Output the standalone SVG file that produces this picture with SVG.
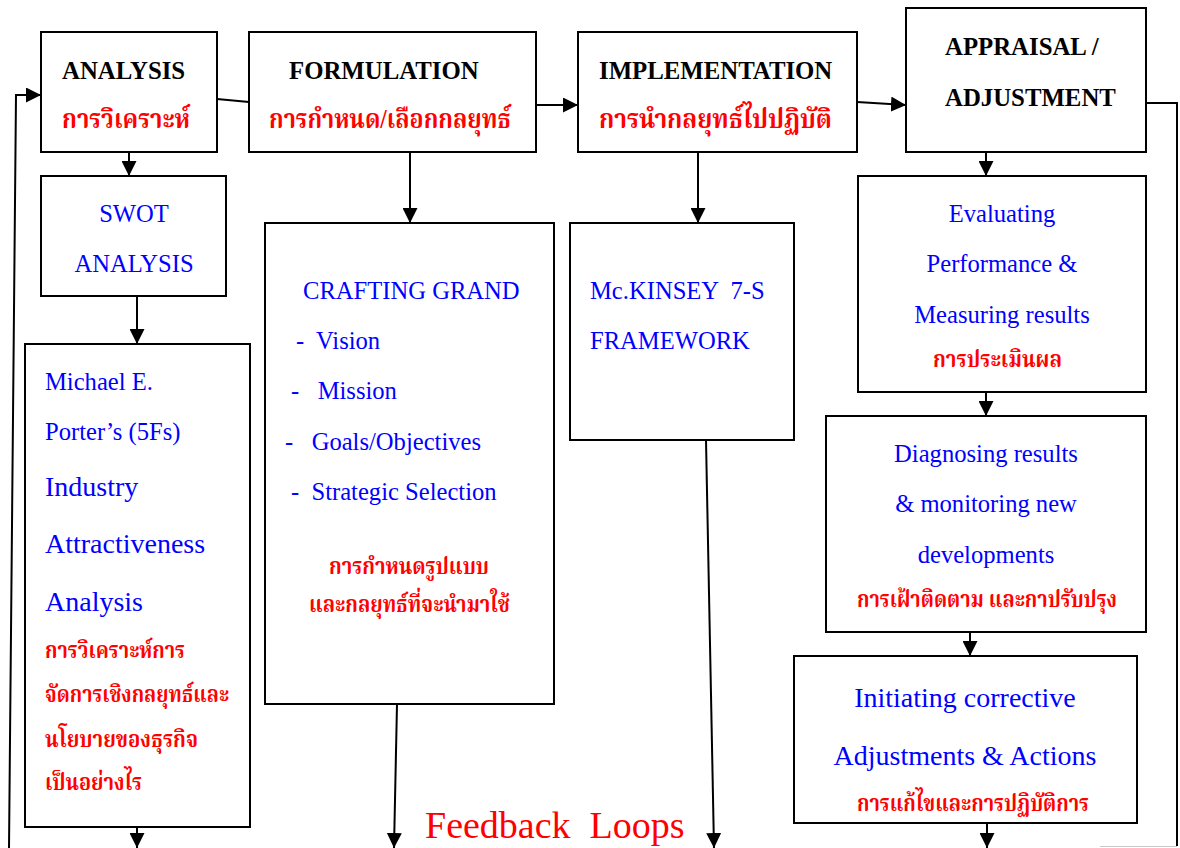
<svg xmlns="http://www.w3.org/2000/svg" width="1180" height="848" viewBox="0 0 1180 848">
<style>
.box{fill:#fff;stroke:#000;stroke-width:2}
.ln{fill:none;stroke:#000;stroke-width:2}
.arr{marker-end:url(#ah)}
.h{font-family:"Liberation Serif","Times New Roman",serif;font-weight:bold;font-size:24.8px;fill:#000}
.b{font-family:"Liberation Serif","Times New Roman",serif;font-size:24.6px;fill:#0000ff}
.bl{font-family:"Liberation Serif","Times New Roman",serif;font-size:28px;fill:#0000ff}
.t{font-family:"Liberation Serif","Noto Serif Thai","Noto Sans Thai","Tlwg Typo","Garuda","Loma",serif;font-weight:bold;fill:#ff0000}
.t1{font-size:27px}
.t2{font-size:23px}
.c{text-anchor:middle}
.fb{font-family:"Liberation Serif","Times New Roman",serif;font-size:38px;fill:#ff0000}
</style>
<defs>
<marker id="ah" viewBox="0 0 14 15" refX="15" refY="7.5" markerWidth="14" markerHeight="15" markerUnits="userSpaceOnUse" orient="auto">
<path d="M0,0 L15,7.5 L0,15 z" fill="#000"/>
</marker>
</defs>

<g id="connectors">
<polyline class="ln arr" points="9,848 16,95 41,95"/>
<line class="ln" x1="217" y1="99" x2="249" y2="102"/>
<line class="ln arr" x1="536" y1="105" x2="578" y2="105"/>
<line class="ln arr" x1="857" y1="102" x2="906" y2="105"/>
<polyline class="ln" points="1146,103 1177,103 1177,846"/>
<line x1="1100" y1="846.5" x2="1177" y2="846.5" stroke="#c8c8c8" stroke-width="1"/>
<line class="ln arr" x1="129" y1="152" x2="129" y2="176"/>
<line class="ln arr" x1="137" y1="296" x2="137" y2="344"/>
<line class="ln arr" x1="137" y1="827" x2="137" y2="848"/>
<line class="ln arr" x1="410" y1="152" x2="410" y2="223"/>
<line class="ln arr" x1="397" y1="704" x2="394" y2="848"/>
<line class="ln arr" x1="698" y1="152" x2="698" y2="223"/>
<line class="ln arr" x1="706" y1="440" x2="714" y2="848"/>
<line class="ln arr" x1="986" y1="152" x2="986" y2="176"/>
<line class="ln arr" x1="986" y1="392" x2="986" y2="416"/>
<line class="ln arr" x1="970" y1="632" x2="970" y2="656"/>
<line class="ln arr" x1="987" y1="823" x2="987" y2="848"/>
</g>

<g id="analysis">
<rect class="box" x="41" y="32" width="176" height="120"/>
<text class="h" x="62" y="79">ANALYSIS</text>
<text class="t t1" x="62" y="128" textLength="128" lengthAdjust="spacingAndGlyphs">การวิเคราะห์</text>
</g>

<g id="formulation">
<rect class="box" x="249" y="32" width="287" height="120"/>
<text class="h" x="289" y="79">FORMULATION</text>
<text class="t t1" x="269" y="128" textLength="242" lengthAdjust="spacingAndGlyphs">การกำหนด/เลือกกลยุทธ์</text>
</g>

<g id="implementation">
<rect class="box" x="578" y="32" width="279" height="120"/>
<text class="h" x="599" y="79">IMPLEMENTATION</text>
<text class="t t1" x="599" y="128" textLength="233" lengthAdjust="spacingAndGlyphs">การนำกลยุทธ์ไปปฏิบัติ</text>
</g>

<g id="appraisal">
<rect class="box" x="906" y="8" width="240" height="144"/>
<text class="h" x="945" y="55">APPRAISAL /</text>
<text class="h" x="945" y="106">ADJUSTMENT</text>
</g>

<g id="swot">
<rect class="box" x="41" y="176" width="185" height="120"/>
<text class="b c" x="134" y="222">SWOT</text>
<text class="b c" x="134" y="272">ANALYSIS</text>
</g>

<g id="porter">
<rect class="box" x="25" y="344" width="225" height="483"/>
<text class="b" x="45" y="390">Michael E.</text>
<text class="b" x="45" y="440">Porter’s (5Fs)</text>
<text class="bl" x="45" y="496">Industry</text>
<text class="bl" x="45" y="553">Attractiveness</text>
<text class="bl" x="45" y="611">Analysis</text>
<text class="t t2" x="45" y="658" textLength="140" lengthAdjust="spacingAndGlyphs">การวิเคราะห์การ</text>
<text class="t t2" x="45" y="702" textLength="184" lengthAdjust="spacingAndGlyphs">จัดการเชิงกลยุทธ์และ</text>
<text class="t t2" x="45" y="747" textLength="153" lengthAdjust="spacingAndGlyphs">นโยบายของธุรกิจ</text>
<text class="t t2" x="45" y="790" textLength="97" lengthAdjust="spacingAndGlyphs">เป็นอย่างไร</text>
</g>

<g id="crafting">
<rect class="box" x="265" y="223" width="289" height="481"/>
<text class="b" x="303" y="299">CRAFTING GRAND</text>
<text class="b" x="296" y="349" xml:space="preserve">-  Vision</text>
<text class="b" x="291" y="399" xml:space="preserve">-   Mission</text>
<text class="b" x="285" y="450" xml:space="preserve">-   Goals/Objectives</text>
<text class="b" x="291" y="500" xml:space="preserve">-  Strategic Selection</text>
<text class="t t2" x="329" y="574" textLength="160" lengthAdjust="spacingAndGlyphs">การกำหนดรูปแบบ</text>
<text class="t t2" x="309" y="612" textLength="201" lengthAdjust="spacingAndGlyphs">และกลยุทธ์ที่จะนำมาใช้</text>
</g>

<g id="mckinsey">
<rect class="box" x="570" y="223" width="224" height="217"/>
<text class="b" x="590" y="299" xml:space="preserve">Mc.KINSEY  7-S</text>
<text class="b" x="590" y="349">FRAMEWORK</text>
</g>

<g id="evaluating">
<rect class="box" x="858" y="176" width="288" height="216"/>
<text class="b c" x="1002" y="222">Evaluating</text>
<text class="b c" x="1002" y="272">Performance &amp;</text>
<text class="b c" x="1002" y="323">Measuring results</text>
<text class="t t2" x="933" y="367" textLength="129" lengthAdjust="spacingAndGlyphs">การประเมินผล</text>
</g>

<g id="diagnosing">
<rect class="box" x="826" y="416" width="320" height="216"/>
<text class="b c" x="986" y="462">Diagnosing results</text>
<text class="b c" x="986" y="512">&amp; monitoring new</text>
<text class="b c" x="986" y="563">developments</text>
<text class="t t2" x="857" y="607" textLength="260" lengthAdjust="spacingAndGlyphs">การเฝ้าติดตาม และกาปรับปรุง</text>
</g>

<g id="initiating">
<rect class="box" x="794" y="656" width="343" height="167"/>
<text class="bl c" x="965" y="707">Initiating corrective</text>
<text class="bl c" x="965" y="765">Adjustments &amp; Actions</text>
<text class="t t2" x="857" y="811" textLength="232" lengthAdjust="spacingAndGlyphs">การแก้ไขและการปฏิบัติการ</text>
</g>

<g id="feedback-label">
<text class="fb" x="425" y="838" xml:space="preserve">Feedback  Loops</text>
</g>
</svg>
